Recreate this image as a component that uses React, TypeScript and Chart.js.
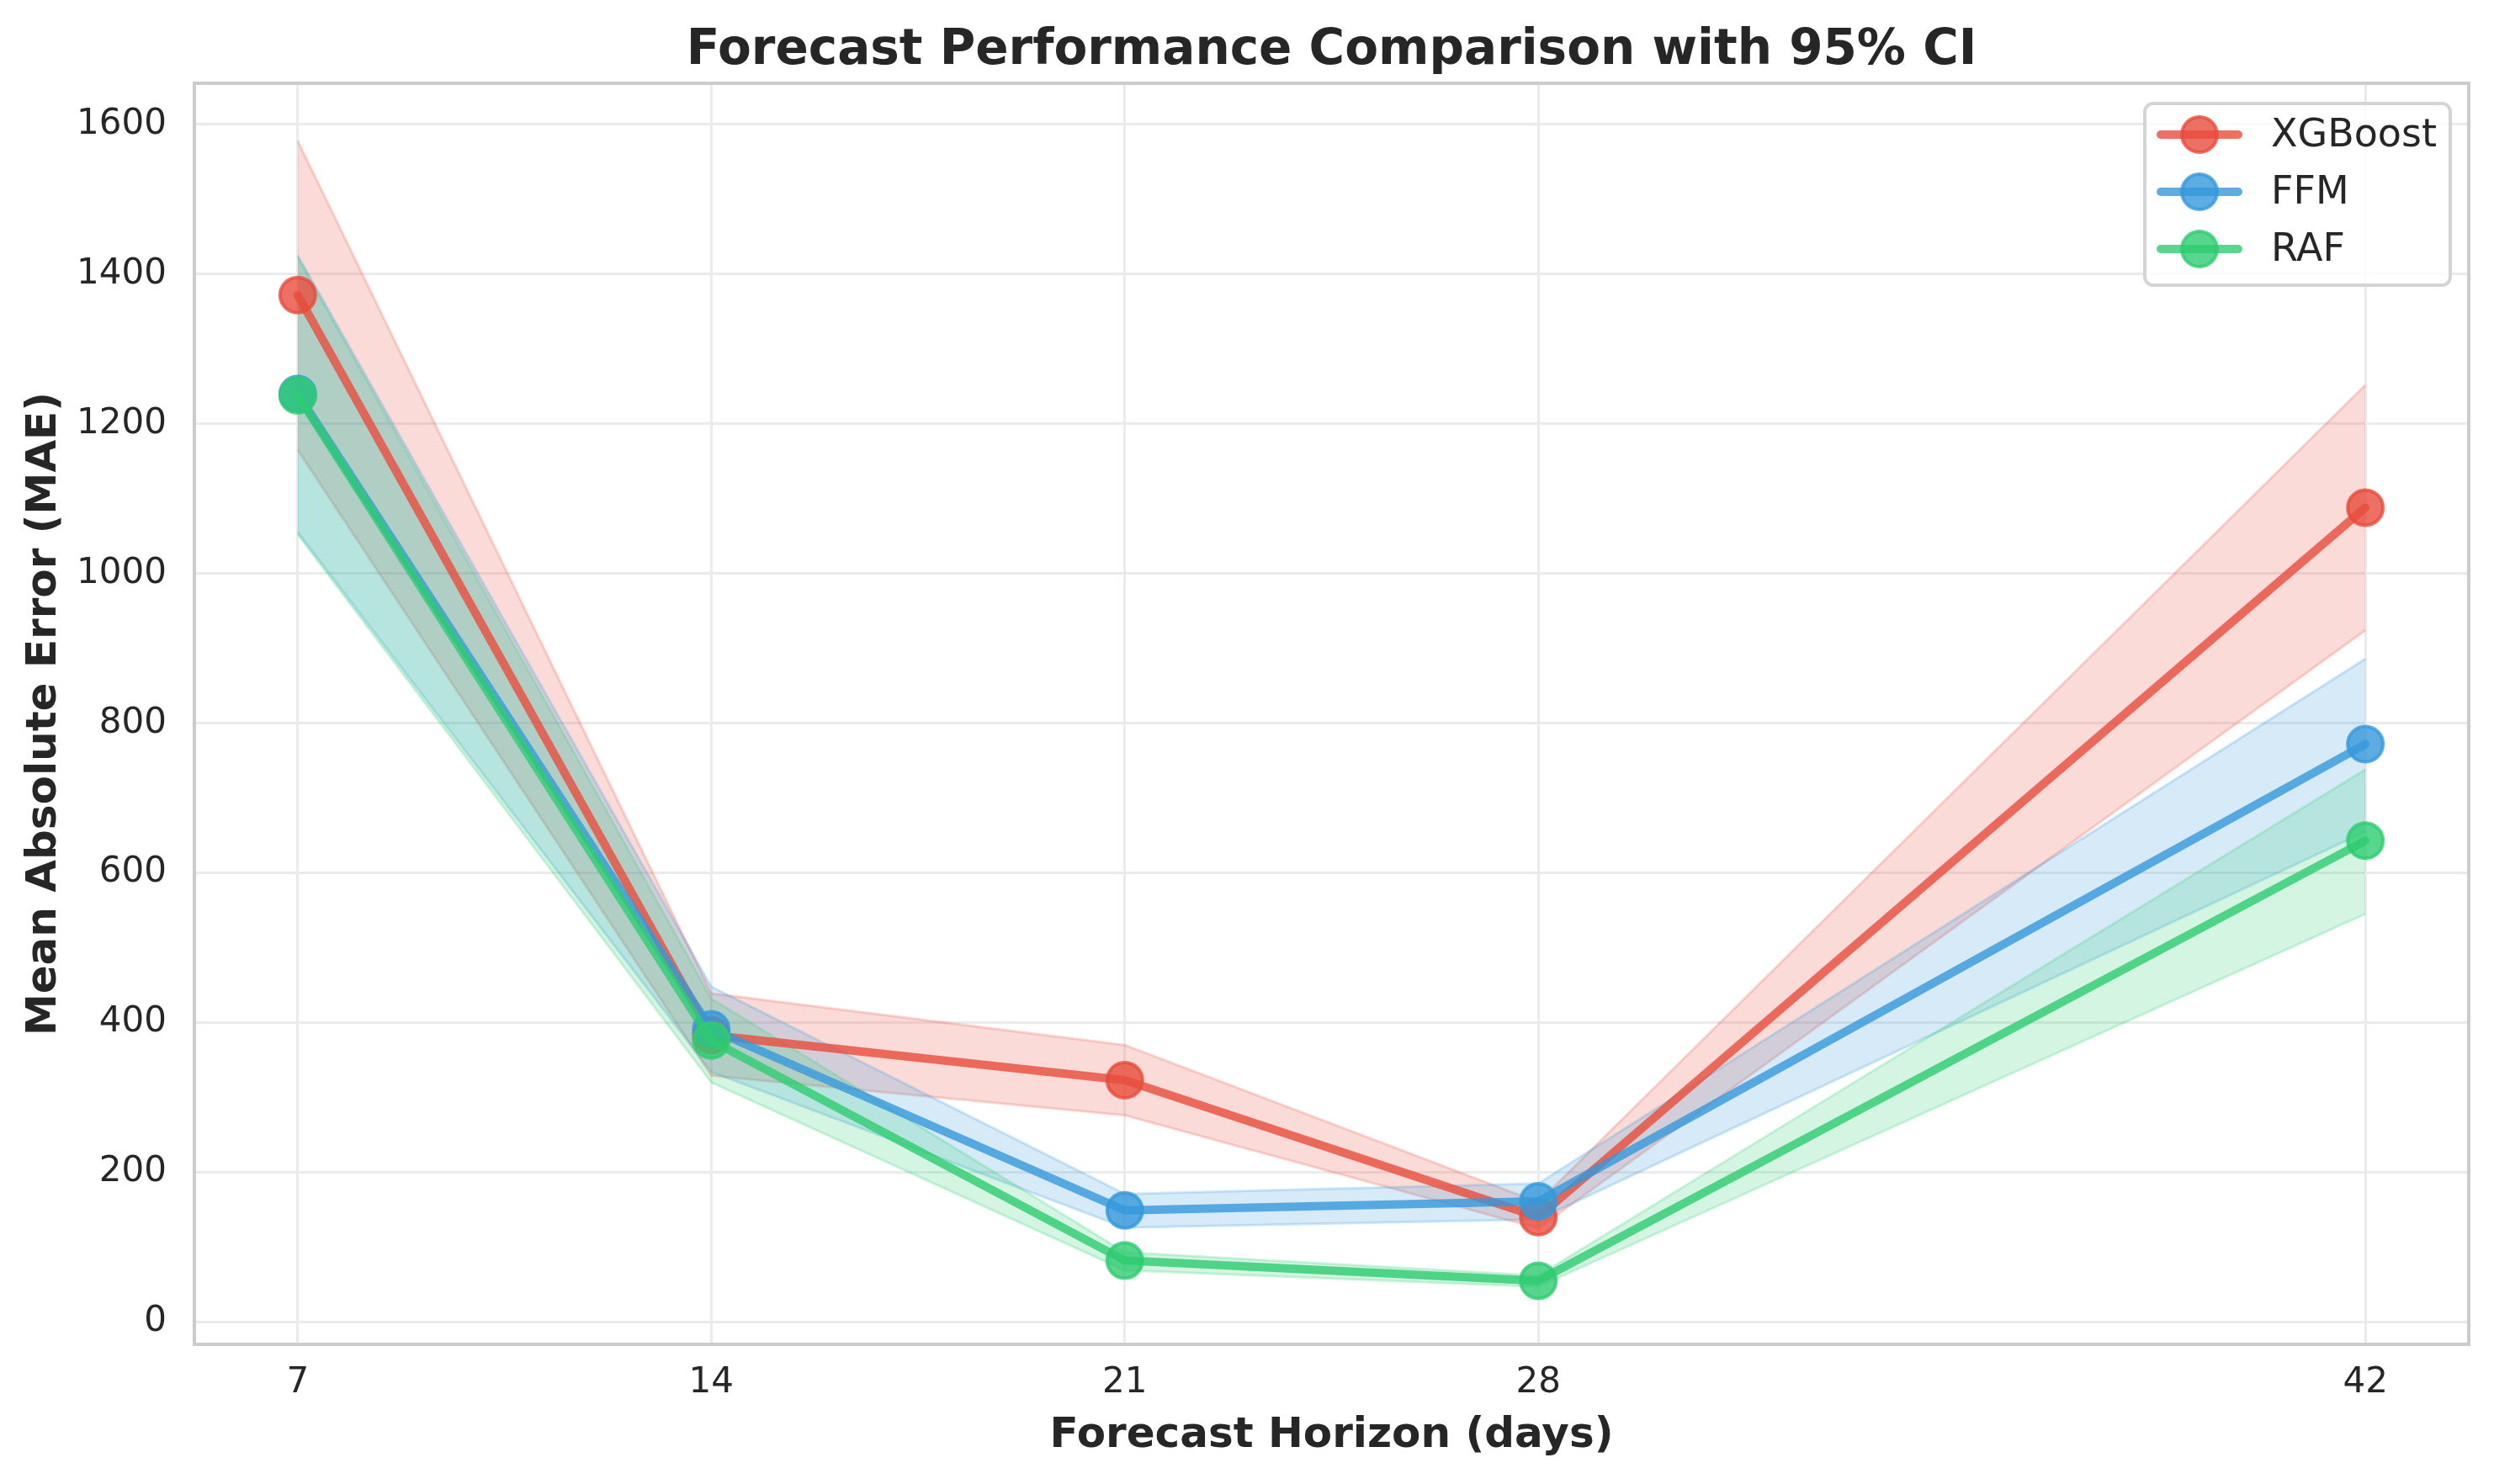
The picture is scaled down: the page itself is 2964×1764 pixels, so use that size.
import React, { useEffect, useRef } from "react";
import { Chart, registerables } from "chart.js";

Chart.register(...registerables);

const chartTitle = "Forecast Performance Comparison with 95% CI";
const xAxisTitle = "Forecast Horizon (days)";
const yAxisTitle = "Mean Absolute Error (MAE)";

const horizons = [7, 14, 21, 28, 42];
const yTicks = [0, 200, 400, 600, 800, 1000, 1200, 1400, 1600];

const modelNames = ["XGBoost", "FFM", "RAF"];
const modelColors = ["231,76,60", "52,152,219", "46,204,113"];

const xgbMean = [1372, 383, 323, 140, 1088];
const xgbLower = [1165, 329, 276, 125, 924];
const xgbUpper = [1578, 439, 370, 160, 1252];

const ffmMean = [1240, 391, 149, 161, 772];
const ffmLower = [1055, 334, 126, 137, 655];
const ffmUpper = [1425, 448, 171, 185, 886];

const rafMean = [1238, 376, 82, 55, 643];
const rafLower = [1052, 320, 69, 47, 545];
const rafUpper = [1422, 432, 93, 62, 738];

const means = [xgbMean, ffmMean, rafMean];
const lowers = [xgbLower, ffmLower, rafLower];
const uppers = [xgbUpper, ffmUpper, rafUpper];

const FONT = "'DejaVu Sans', 'Liberation Sans', sans-serif";
const TEXT = "#262626";

const pts = (arr: number[]) => horizons.map((x, i) => ({ x, y: arr[i] }));

export default function App() {
  const ref = useRef<HTMLCanvasElement | null>(null);

  useEffect(() => {
    const canvas = ref.current;
    if (!canvas) return;

    const datasets: any[] = [];
    modelNames.forEach((name, m) => {
      const c = modelColors[m];
      datasets.push({
        label: name + " upper",
        data: pts(uppers[m]),
        borderColor: `rgba(${c},0.22)`,
        borderWidth: 3,
        pointRadius: 0,
        fill: false,
        order: 20 - m,
        isBand: true,
      });
      datasets.push({
        label: name + " lower",
        data: pts(lowers[m]),
        borderColor: `rgba(${c},0.22)`,
        borderWidth: 3,
        backgroundColor: `rgba(${c},0.2)`,
        pointRadius: 0,
        fill: "-1",
        order: 20 - m,
        isBand: true,
      });
    });
    modelNames.forEach((name, m) => {
      const c = modelColors[m];
      datasets.push({
        label: name,
        data: pts(means[m]),
        borderColor: `rgba(${c},0.8)`,
        borderWidth: 10,
        borderJoinStyle: "round",
        borderCapStyle: "round",
        pointRadius: 21,
        pointBorderWidth: 4,
        pointBackgroundColor: `rgba(${c},0.8)`,
        pointBorderColor: `rgba(${c},0.8)`,
        fill: false,
        order: 5 - m,
        isMain: true,
      });
    });

    const decor = {
      id: "decor",
      beforeDatasetsDraw(chart: any) {
        const { ctx, chartArea } = chart;
        ctx.save();
        ctx.strokeStyle = "#cccccc";
        ctx.lineWidth = 4;
        ctx.strokeRect(chartArea.left, chartArea.top, chartArea.right - chartArea.left, chartArea.bottom - chartArea.top);
        ctx.restore();
      },
      afterDraw(chart: any) {
        const { ctx, chartArea } = chart;
        ctx.save();
        // title
        ctx.fillStyle = TEXT;
        ctx.font = `bold 58px ${FONT}`;
        ctx.textAlign = "center";
        ctx.textBaseline = "middle";
        ctx.fillText(chartTitle, (chartArea.left + chartArea.right) / 2, 61);

        // legend
        const bx = 2549, by = 123, bw = 363, bh = 216, r = 10;
        ctx.beginPath();
        ctx.moveTo(bx + r, by);
        ctx.arcTo(bx + bw, by, bx + bw, by + bh, r);
        ctx.arcTo(bx + bw, by + bh, bx, by + bh, r);
        ctx.arcTo(bx, by + bh, bx, by, r);
        ctx.arcTo(bx, by, bx + bw, by, r);
        ctx.closePath();
        ctx.fillStyle = "rgba(255,255,255,0.8)";
        ctx.fill();
        ctx.strokeStyle = "#d4d4d4";
        ctx.lineWidth = 4;
        ctx.stroke();

        const mains = chart.data.datasets.filter((d: any) => d.isMain);
        mains.forEach((d: any, i: number) => {
          const y = 160 + i * 68;
          ctx.strokeStyle = d.borderColor;
          ctx.lineWidth = 10;
          ctx.lineCap = "round";
          ctx.beginPath();
          ctx.moveTo(2568, y);
          ctx.lineTo(2660, y);
          ctx.stroke();
          ctx.beginPath();
          ctx.arc(2614, y, 21, 0, Math.PI * 2);
          ctx.fillStyle = d.pointBackgroundColor;
          ctx.fill();
          ctx.lineWidth = 4;
          ctx.strokeStyle = d.pointBorderColor;
          ctx.stroke();
          ctx.fillStyle = TEXT;
          ctx.font = `46px ${FONT}`;
          ctx.textAlign = "left";
          ctx.textBaseline = "middle";
          ctx.fillText(d.label, 2699, y + 2);
        });
        ctx.restore();
      },
    };

    const chart = new Chart(canvas, {
      type: "line",
      data: { datasets },
      options: {
        animation: false,
        responsive: false,
        parsing: false as any,
        layout: { padding: { top: 99, right: 30, left: 0, bottom: 0 } },
        plugins: {
          legend: { display: false },
          tooltip: { enabled: false },
          title: { display: false },
        },
        scales: {
          x: {
            type: "linear",
            min: 5.25,
            max: 43.75,
            afterBuildTicks: (s: any) => {
              s.ticks = horizons.map((v) => ({ value: v }));
            },
            afterFit: (s: any) => {
              s.height = 166;
            },
            grid: { color: "#ebebeb", lineWidth: 3, drawTicks: false },
            border: { display: false },
            ticks: {
              color: TEXT,
              font: { family: FONT, size: 42 },
              padding: 21,
              maxRotation: 0,
              autoSkip: false,
              callback: (v: any) => String(v),
            },
            title: {
              display: true,
              text: xAxisTitle,
              color: TEXT,
              font: { family: FONT, size: 50, weight: "bold" },
              padding: { top: 0, bottom: 27 },
            },
          },
          y: {
            type: "linear",
            min: -30,
            max: 1655,
            afterBuildTicks: (s: any) => {
              s.ticks = yTicks.map((v) => ({ value: v }));
            },
            afterFit: (s: any) => {
              s.width = 231;
            },
            grid: { color: "#ebebeb", lineWidth: 3, drawTicks: false },
            border: { display: false },
            ticks: {
              color: TEXT,
              font: { family: FONT, size: 42 },
              padding: 33,
              callback: (v: any) => String(v),
            },
            title: {
              display: true,
              text: yAxisTitle,
              color: TEXT,
              font: { family: FONT, size: 50, weight: "bold" },
              padding: { top: 23, bottom: 0 },
            },
          },
        },
      },
      plugins: [decor],
    } as any);

    return () => chart.destroy();
  }, []);

  return (
    <div style={{ position: "fixed", left: 0, top: 0, width: 2964, height: 1764, background: "#ffffff" }}>
      <canvas ref={ref} width={2964} height={1764} style={{ width: 2964, height: 1764, display: "block" }} />
    </div>
  );
}
